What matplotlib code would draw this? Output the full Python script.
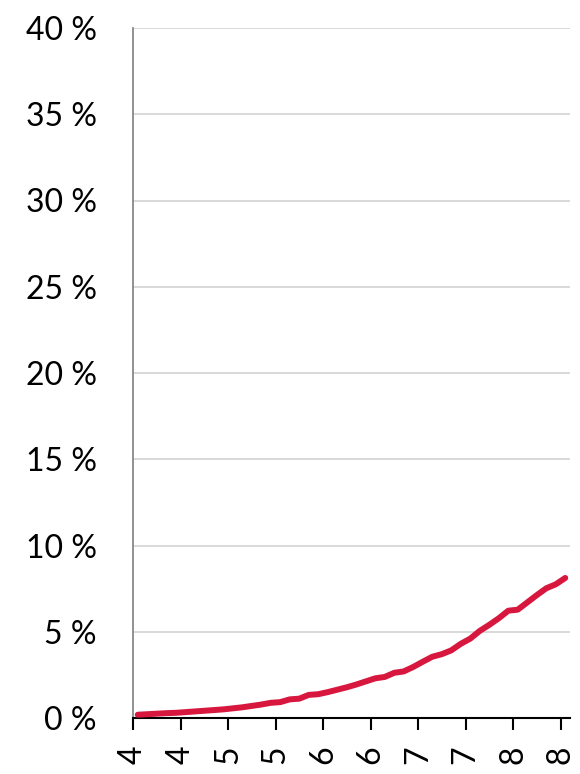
import matplotlib
matplotlib.use('Agg')
import matplotlib.pyplot as plt
from matplotlib.ticker import FuncFormatter

# ages 40..85, one value per year (share in %)
ages = list(range(40, 86))
share = [0.19, 0.22, 0.25, 0.28, 0.30, 0.34, 0.38, 0.42, 0.46, 0.50,
         0.56, 0.62, 0.70, 0.78, 0.88, 0.92, 1.08, 1.12, 1.34, 1.38,
         1.50, 1.64, 1.78, 1.94, 2.12, 2.30, 2.38, 2.62, 2.70, 2.96,
         3.26, 3.55, 3.70, 3.92, 4.30, 4.60, 5.05, 5.40, 5.78, 6.22,
         6.28, 6.70, 7.12, 7.52, 7.75, 8.12]
tick_labels = ['4', '4', '5', '5', '6', '6', '7', '7', '8', '8']
y_ticks = [0, 5, 10, 15, 20, 25, 30, 35, 40]

plt.rcParams['font.family'] = ['Lato', 'DejaVu Sans']

fig = plt.figure(figsize=(5.8, 7.74), dpi=100, facecolor='w')
ax = fig.add_axes([133/580, 1-718/774, (570-133)/580, (718-28)/774])

x = list(range(len(ages)))
ax.plot(x, share, color='#d8173f', linewidth=4.3, solid_capstyle='round', solid_joinstyle='round', zorder=3)

ax.set_xlim(-0.5, len(ages)-0.5)
ax.set_ylim(0, 40)
ax.set_yticks(y_ticks)
ax.yaxis.set_major_formatter(FuncFormatter(lambda v, p: '%d %%' % v))
ax.grid(axis='y', color='#d9d9d9', linewidth=1.4)
ax.set_axisbelow(True)

ax.set_xticks([i*5-0.5 for i in range(len(tick_labels))])
ax.set_xticklabels(tick_labels, rotation=90)

ax.tick_params(axis='y', length=0, pad=26, labelsize=23, labelcolor='black')
ax.tick_params(axis='x', length=8.5, width=1.5, pad=11, labelsize=23, color='black')

for s in ['top', 'right']:
    ax.spines[s].set_visible(False)
ax.spines['left'].set_color('#7f7f7f')
ax.spines['left'].set_linewidth(1.2)
ax.spines['bottom'].set_color('black')
ax.spines['bottom'].set_linewidth(1.5)

fig.savefig('out.png', dpi=100)
